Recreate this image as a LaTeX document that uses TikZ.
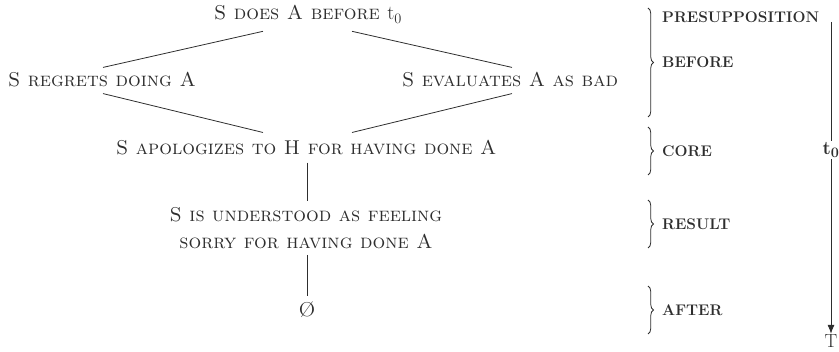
\documentclass[tikz,border=0pt]{standalone}
\usetikzlibrary{decorations.pathreplacing,arrows.meta,calc}
\definecolor{ink}{HTML}{2E2E2E}
\newcommand{\eventfont}{\fontsize{20}{27}\selectfont\scshape}
\newcommand{\stagefont}{\fontsize{15.4}{18}\selectfont\bfseries}
\newlength\leadtop
\newlength\leadcore
\begin{document}
% widths of the text before the points where the connectors meet
\settowidth{\leadtop}{\eventfont S does A}%
\settowidth{\leadcore}{\eventfont S apologizes to H}%
\begin{tikzpicture}[x=1pt,y=-1pt,
  every node/.style={text=ink, inner sep=0pt},
  event/.style={font=\eventfont, align=center},
  link/.style={draw=ink, line width=0.8pt},
  bracket/.style={draw=ink, line width=0.8pt, decorate,
    decoration={brace, amplitude=5.5pt}},
  stage/.style={anchor=west, font=\stagefont}]
\useasboundingbox (0,0) rectangle (839,352);

\coordinate (topmark) at (303,20);
\coordinate (coremark) at (300,155);
\coordinate (topstart) at ($(topmark)-(\leadtop,0)$);
\coordinate (corestart) at ($(coremark)-(\leadcore,0)$);

% events of the apology
\node[event, anchor=base west] (top) at (topstart) {S does A before \textup{t}$_{\mathrm{0}}$};
\node[event] (regret) at (102,80) {S regrets doing A};
\node[event] (evaluate) at (510,80) {S evaluates A as bad};
\node[event, anchor=base west] (apology) at (corestart) {S apologizes to H for having done A};
\node[event] (result) at (306,228) {S is understood as feeling\\sorry for having done A};
\node[event] (empty) at (307,310) {\O};

% connectors between the events
\draw[link] ($(top.south -| topmark)+(-40,8)$) -- ($(regret.north)+(1,-5)$);
\draw[link] ($(top.south -| topmark)+(49,8)$) -- ($(evaluate.north)+(2,-5)$);
\draw[link] ($(regret.south)+(1,6)$) -- ($(apology.north -| coremark)+(-37,-8)$);
\draw[link] ($(evaluate.south)+(2,6)$) -- ($(apology.north -| coremark)+(52,-8)$);
\draw[link] ($(apology.south -| result.north)+(1,7)$) -- ($(result.north)+(1,-6)$);
\draw[link] ($(result.south)+(1,6)$) -- ($(empty.north)+(0,-6)$);

% stages of the act
\draw[bracket] (648,8) -- (648,117) coordinate[midway] (bb);
\draw[bracket] (648,127) -- (648,175) coordinate[midway] (bc);
\draw[bracket] (648,200) -- (648,248) coordinate[midway] (br);
\draw[bracket] (648,286) -- (648,334) coordinate[midway] (ba);
\node[stage] (presup) at (662,17) {PRESUPPOSITION};
\node[stage] (before) at ([xshift=14pt]bb) {BEFORE};
\node[stage] (core) at ([xshift=14pt]bc) {CORE};
\node[stage] (res) at ([xshift=14pt]br) {RESULT};
\node[stage] (after) at ([xshift=14pt]ba) {AFTER};

% time axis
\coordinate (tstart) at (831,22);
\node[font=\fontsize{19}{21}\selectfont] (tend) at (831,341.5) {T};
\draw[draw=ink, line width=0.8pt, -{Latex[length=9pt,width=7pt]}] (tstart) -- ([yshift=1pt]tend.north);
\node[fill=white, inner sep=1.5pt, font=\fontsize{19}{20}\selectfont\bfseries] (tzero) at (831,150) {t$_{\mathbf{0}}$};
\end{tikzpicture}
\end{document}
